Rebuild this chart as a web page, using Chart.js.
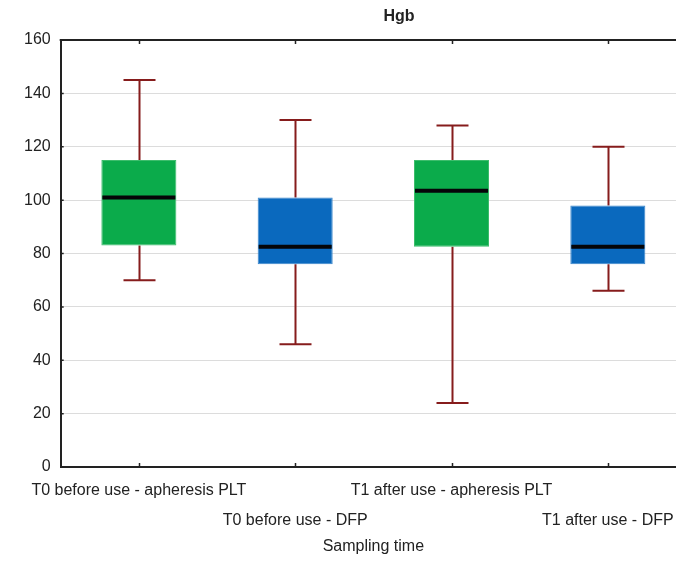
<!DOCTYPE html>
<html>
<head>
<meta charset="utf-8">
<script src="https://cdn.jsdelivr.net/npm/chart.js@4/dist/chart.umd.min.js"></script>
<style>
  html, body { margin: 0; padding: 0; background: #fff; overflow: hidden; }
  #wrap { width: 676px; height: 565px; overflow: hidden; }
</style>
</head>
<body>
<div id="wrap"><canvas id="boxChart" width="690" height="565"></canvas></div>
<script>
// box plot values (Hgb)
const categories = ["T0 before use - apheresis PLT", "T0 before use - DFP", "T1 after use - apheresis PLT", "T1 after use - DFP"];
const whiskerLow = [70, 46, 24, 66];
const q1 = [83, 76, 82.5, 76];
const medians = [101, 82.5, 103.5, 82.5];
const q3 = [115, 101, 115, 98];
const whiskerHigh = [145, 130, 128, 120];
const yTicks = [0, 20, 40, 60, 80, 100, 120, 140, 160];

const boxColors = ["#0bab4b", "#0a69be", "#0bab4b", "#0a69be"];
const boxBorders = ["#3dbd6c", "#3a86cc", "#3dbd6c", "#3a86cc"];

// stagger the labels on two rows like the original
const tickLabels = categories.map((c, i) => i % 2 === 0 ? [c, ""] : ["", c]);

const boxPlotPlugin = {
  id: 'boxPlot',
  beforeDatasetsDraw(chart) {
    const ctx = chart.ctx;
    const y = chart.scales.y;
    const meta = chart.getDatasetMeta(0);
    ctx.save();
    ctx.strokeStyle = '#861c1c';
    ctx.lineWidth = 2;
    meta.data.forEach((bar, i) => {
      const cx = Math.round(bar.x) + 0.5;
      const capHalf = 16;
      const yHi = y.getPixelForValue(whiskerHigh[i]);
      const yLo = y.getPixelForValue(whiskerLow[i]);
      ctx.beginPath();
      ctx.moveTo(cx, yHi);
      ctx.lineTo(cx, y.getPixelForValue(q3[i]));
      ctx.moveTo(cx, y.getPixelForValue(q1[i]));
      ctx.lineTo(cx, yLo);
      ctx.moveTo(cx - capHalf, yHi);
      ctx.lineTo(cx + capHalf, yHi);
      ctx.moveTo(cx - capHalf, yLo);
      ctx.lineTo(cx + capHalf, yLo);
      ctx.stroke();
    });
    ctx.restore();
  },
  afterDatasetsDraw(chart) {
    const ctx = chart.ctx;
    const y = chart.scales.y;
    const meta = chart.getDatasetMeta(0);
    ctx.save();
    ctx.strokeStyle = '#050508';
    ctx.lineWidth = 4;
    meta.data.forEach((bar, i) => {
      const half = bar.width / 2;
      const ym = y.getPixelForValue(medians[i]);
      ctx.beginPath();
      ctx.moveTo(bar.x - half + 1, ym);
      ctx.lineTo(bar.x + half - 1, ym);
      ctx.stroke();
    });
    ctx.restore();
  },
  afterDraw(chart) {
    const ctx = chart.ctx;
    const area = chart.chartArea;
    const y = chart.scales.y;
    const meta = chart.getDatasetMeta(0);
    ctx.save();
    // top frame line
    ctx.strokeStyle = '#222';
    ctx.lineWidth = 2;
    ctx.beginPath();
    ctx.moveTo(area.left - 1, area.top);
    ctx.lineTo(area.right, area.top);
    ctx.stroke();
    // small inward tick marks
    ctx.lineWidth = 1.5;
    ctx.beginPath();
    yTicks.forEach(v => {
      const py = y.getPixelForValue(v);
      ctx.moveTo(area.left, py);
      ctx.lineTo(area.left + 3, py);
    });
    meta.data.forEach(bar => {
      const cx = Math.round(bar.x) + 0.5;
      ctx.moveTo(cx, area.top);
      ctx.lineTo(cx, area.top + 4);
      ctx.moveTo(cx, area.bottom);
      ctx.lineTo(cx, area.bottom - 4);
    });
    ctx.stroke();
    // chart title
    ctx.fillStyle = '#222';
    ctx.font = 'bold 16px "Liberation Sans", Arial, sans-serif';
    ctx.textAlign = 'center';
    ctx.textBaseline = 'middle';
    ctx.fillText('Hgb', 399, 17);
    ctx.restore();
  }
};

const ctx = document.getElementById('boxChart').getContext('2d');
const boxChart = new Chart(ctx, {
  type: 'bar',
  data: {
    labels: tickLabels,
    datasets: [{
      data: q1.map((v, i) => [v, q3[i]]),
      backgroundColor: boxColors,
      borderColor: boxBorders,
      borderWidth: 1,
      borderSkipped: false,
      barPercentage: 0.48,
      categoryPercentage: 1
    }]
  },
  options: {
    responsive: false,
    animation: false,
    layout: { padding: { top: 40, left: 14, right: 4, bottom: 2 } },
    plugins: {
      legend: { display: false },
      tooltip: { enabled: false }
    },
    scales: {
      x: {
        offset: true,
        afterFit(scale) { scale.height = 96; },
        grid: { display: false, drawTicks: false },
        border: { display: true, color: '#222', width: 2 },
        ticks: {
          maxRotation: 0,
          autoSkip: false,
          padding: 8,
          color: '#222',
          font: { family: '"Liberation Sans", Arial, sans-serif', size: 16, lineHeight: 1.9 }
        },
        title: {
          display: true,
          text: 'Sampling time',
          color: '#222',
          padding: { top: 0, bottom: 7 },
          font: { family: '"Liberation Sans", Arial, sans-serif', size: 16 }
        }
      },
      y: {
        min: 0,
        max: 160,
        grid: { color: '#dcdcdc', lineWidth: 1, drawTicks: false },
        border: { display: true, color: '#222', width: 2 },
        ticks: {
          stepSize: 20,
          padding: 10,
          color: '#222',
          font: { family: '"Liberation Sans", Arial, sans-serif', size: 16 }
        }
      }
    }
  },
  plugins: [boxPlotPlugin]
});
</script>
</body>
</html>
